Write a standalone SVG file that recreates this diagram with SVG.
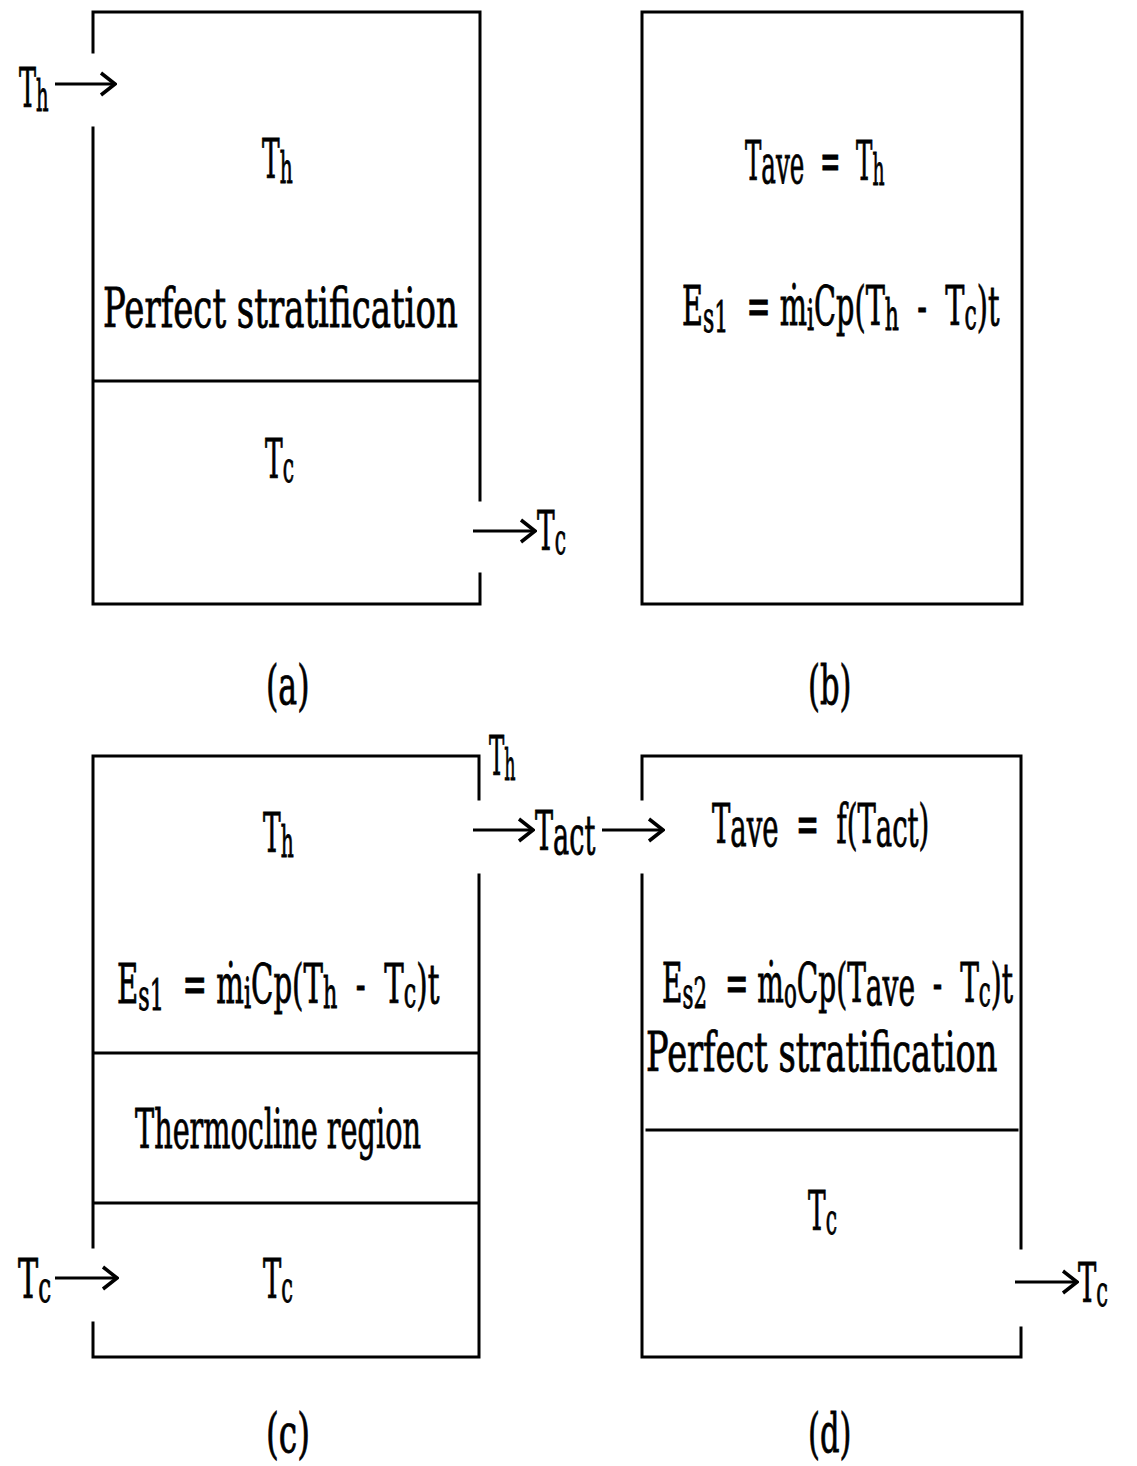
<svg xmlns="http://www.w3.org/2000/svg" width="1137" height="1466" viewBox="0 0 1137 1466">
<style>
.ln{stroke:#000;stroke-width:3;fill:none;stroke-linecap:square}
.ar{stroke:#000;stroke-width:3;fill:none;marker-end:url(#head)}
text{font-family:"DejaVu Serif","Liberation Serif",serif;font-size:55px;fill:#000;stroke:#000;stroke-width:0.9}
.sub{font-size:42px}
</style>
<defs>
<marker id="head" viewBox="-18 -14 20 28" markerWidth="20" markerHeight="28" refX="0" refY="0" orient="auto" markerUnits="userSpaceOnUse">
<path d="M-14,-11 L0,0 L-14,11" stroke="#000" stroke-width="3.5" fill="none" stroke-linejoin="miter"/>
</marker>
</defs>
<rect width="1137" height="1466" fill="#fff"/>

<g id="node-a">
<path class="ln" d="M93,52 V12 H480 V500 M480,574 V604 H93 V128 M93,381 H480"/>
<text transform="translate(262,178) scale(0.481,1)">T<tspan class="sub" dy="5">h</tspan></text>
<text transform="translate(103,327) scale(0.618,1)">Perfect stratification</text>
<text transform="translate(265,478) scale(0.481,1)">T<tspan class="sub" dy="4">c</tspan></text>
<text transform="translate(19,107) scale(0.465,1)">T<tspan class="sub" dy="4">h</tspan></text>
<text transform="translate(537,550) scale(0.481,1)">T<tspan class="sub" dy="4">c</tspan></text>
<text transform="translate(266,704) scale(0.575,1)">(a)</text>
</g>

<g id="node-b">
<rect class="ln" x="642" y="12" width="380" height="592"/>
<text transform="translate(745,180) scale(0.446,1)">T<tspan dy="3">ave</tspan><tspan dy="-3">&#160;&#160;=&#160;&#160;T</tspan><tspan class="sub" dy="5">h</tspan></text>
<text transform="translate(682,325) scale(0.523,1)">E<tspan class="sub" dy="7">s1</tspan><tspan dy="-7">&#160;&#160;=&#160;ṁ</tspan><tspan class="sub" dy="5">i</tspan><tspan dy="-5">Cp(T</tspan><tspan class="sub" dy="5">h</tspan><tspan dy="-5">&#160;&#160;-&#160;&#160;T</tspan><tspan class="sub" dy="4">c</tspan><tspan dy="-4">)t</tspan></text>
<text transform="translate(808,704) scale(0.556,1)">(b)</text>
</g>

<g id="node-c">
<path class="ln" d="M93,1247 V756 H479 V799 M479,875 V1357 H93 V1323 M93,1053 H479 M93,1203 H479"/>
<text transform="translate(263,852) scale(0.481,1)">T<tspan class="sub" dy="5">h</tspan></text>
<text transform="translate(117,1003) scale(0.531,1)">E<tspan class="sub" dy="7">s1</tspan><tspan dy="-7">&#160;&#160;=&#160;ṁ</tspan><tspan class="sub" dy="5">i</tspan><tspan dy="-5">Cp(T</tspan><tspan class="sub" dy="5">h</tspan><tspan dy="-5">&#160;&#160;-&#160;&#160;T</tspan><tspan class="sub" dy="4">c</tspan><tspan dy="-4">)t</tspan></text>
<text transform="translate(135,1148) scale(0.522,1)">Thermocline region</text>
<text transform="translate(263,1298) scale(0.498,1)">T<tspan class="sub" dy="4">c</tspan></text>
<text transform="translate(18,1298) scale(0.55,1)">T<tspan class="sub" dy="4">c</tspan></text>
<text transform="translate(489,775) scale(0.417,1)">T<tspan class="sub" dy="5">h</tspan></text>
<text transform="translate(266,1452) scale(0.597,1)">(c)</text>
</g>

<g id="node-tact">
<text transform="translate(535,850) scale(0.493,1)">T<tspan dy="4">act</tspan></text>
</g>

<g id="node-d">
<path class="ln" d="M642,799 V756 H1021 V1248 M1021,1328 V1357 H642 V875 M647,1130 H1017"/>
<text transform="translate(712,843) scale(0.50,1)">T<tspan dy="3">ave</tspan><tspan dy="-3">&#160;&#160;=&#160;&#160;f(T</tspan><tspan dy="3">act</tspan><tspan dy="-3">)</tspan></text>
<text transform="translate(662,1002) scale(0.51,1)">E<tspan class="sub" dy="6">s2</tspan><tspan dy="-6">&#160;&#160;=&#160;ṁ</tspan><tspan class="sub" dy="5">o</tspan><tspan dy="-5">Cp(T</tspan><tspan dy="3">ave</tspan><tspan dy="-3">&#160;&#160;-&#160;&#160;T</tspan><tspan class="sub" dy="4">c</tspan><tspan dy="-4">)t</tspan></text>
<text transform="translate(646,1071) scale(0.612,1)">Perfect stratification</text>
<text transform="translate(808,1230) scale(0.481,1)">T<tspan class="sub" dy="4">c</tspan></text>
<text transform="translate(1078,1302) scale(0.498,1)">T<tspan class="sub" dy="4">c</tspan></text>
<text transform="translate(808,1452) scale(0.556,1)">(d)</text>
</g>

<g id="connectors">
<line class="ar" x1="55" y1="84" x2="115" y2="84"/>
<line class="ar" x1="473" y1="531" x2="535" y2="531"/>
<line class="ar" x1="473" y1="830" x2="533" y2="830"/>
<line class="ar" x1="602" y1="830" x2="663" y2="830"/>
<line class="ar" x1="55" y1="1278" x2="117" y2="1278"/>
<line class="ar" x1="1015" y1="1282" x2="1077" y2="1282"/>
</g>
</svg>
